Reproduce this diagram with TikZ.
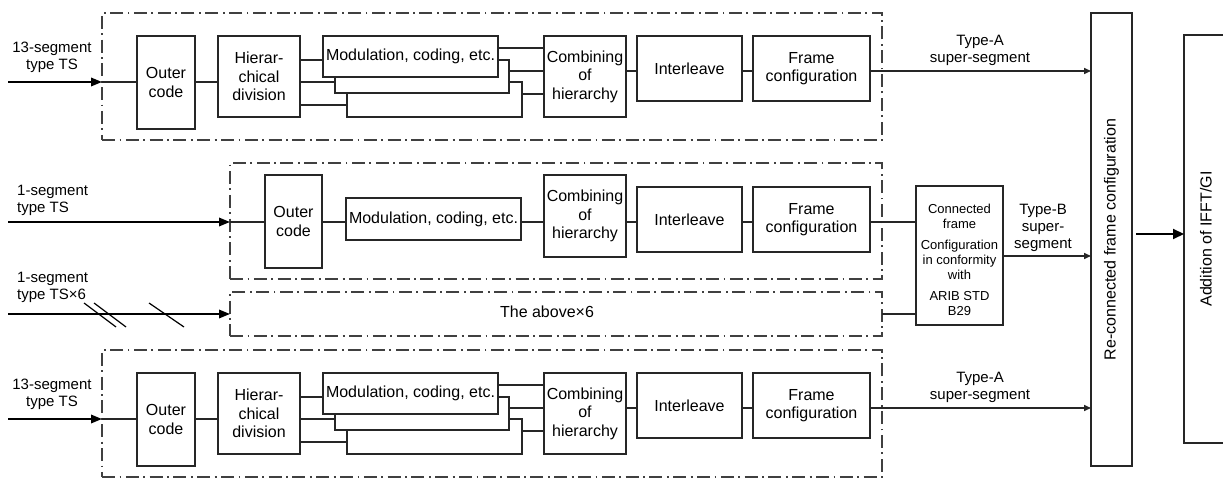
\documentclass[tikz,border=0pt]{standalone}
\usepackage{fontspec}
\setmainfont{Liberation Sans}
\usetikzlibrary{arrows.meta}
\tikzset{
 blk/.style={draw=black!85, line width=1.8pt, fill=white, inner sep=0pt, outer sep=0pt, align=center, font=\fontsize{16}{18.5}\selectfont},
 dbox/.style={draw=black!75, line width=1.4pt, dash pattern=on 13pt off 4.5pt on 1.8pt off 4.5pt, inner sep=0pt, outer sep=0pt},
 conn/.style={draw=black!85, line width=1.2pt},
 inarrow/.style={draw=black, line width=1.8pt, -{Triangle[length=11pt,width=8.5pt]}},
 outarrow/.style={draw=black!85, line width=1.5pt, -{Triangle[length=7pt,width=6pt]}},
 bigarrow/.style={draw=black, line width=2pt, -{Triangle[length=11pt,width=10pt]}},
 lbl/.style={inner sep=0pt, align=center, font=\fontsize{15}{17}\selectfont},
 slash/.style={draw=black, line width=1.2pt},
}
\newcommand\rowTypeA{%
 \node[dbox, minimum width=780pt, minimum height=127pt] (box) at (492,76.5) {};
 \coordinate (in) at (8,82);
 \coordinate (y48) at (0,48);
 \coordinate (y60) at (0,60);
 \coordinate (y71) at (0,71);
 \coordinate (y82) at (0,82);
 \coordinate (y94) at (0,94);
 \coordinate (y105) at (0,105);
 \node[blk, minimum width=58pt, minimum height=93pt] (outer) at (166,82.5) {Outer\\code};
 \node[blk, minimum width=82pt, minimum height=81pt] (hier) at (259,76.5) {Hierar-\\chical\\division};
 \node[blk, minimum width=175pt, minimum height=35pt] (modc) at (434.5,99.5) {};
 \node[blk, minimum width=174pt, minimum height=33pt] (modb) at (422,76.5) {};
 \node[blk, minimum width=175pt, minimum height=41pt] (moda) at (410.5,56.5) {Modulation, coding, etc.};
 \node[blk, minimum width=82pt, minimum height=81pt] (comb) at (585,76.5) {Combining\\of\\hierarchy};
 \node[blk, minimum width=105pt, minimum height=65pt] (inter) at (689.5,68.5) {Interleave};
 \node[blk, minimum width=117pt, minimum height=65pt] (frame) at (811.5,68.5) {Frame\\configuration};
 \draw[inarrow] (in) -- (box.west |- in);
 \draw[conn] (box.west |- in) -- (outer.west |- in);
 \draw[conn] (outer.east |- y82) -- (hier.west |- y82);
 \draw[conn] (hier.east |- y60) -- (moda.west |- y60);
 \draw[conn] (hier.east |- y82) -- (modb.west |- y82);
 \draw[conn] (hier.east |- y105) -- (modc.west |- y105);
 \draw[conn] (moda.east |- y48) -- (comb.west |- y48);
 \draw[conn] (modb.east |- y71) -- (comb.west |- y71);
 \draw[conn] (modc.east |- y94) -- (comb.west |- y94);
 \draw[conn] (comb.east |- y71) -- (inter.west |- y71);
 \draw[conn] (inter.east |- y71) -- (frame.west |- y71);
 \node[lbl] (lin) at (52,57) {13-segment\\type TS};
 \node[lbl] (lout) at (980,50) {Type-A\\super-segment};
}
\begin{document}
\begin{tikzpicture}[x=1pt, y=-1pt]
\useasboundingbox (0,0) rectangle (1223,478);
% top and bottom Type-A rows
\begin{scope}[name prefix=t-]
 \rowTypeA
\end{scope}
\begin{scope}[shift={(0,337)}, name prefix=b-]
 \rowTypeA
\end{scope}
% right-hand blocks (rotated: north = left side, south = right side)
\node[blk, rotate=90, minimum width=453pt, minimum height=41pt] (recon) at (1111.5,239.5) {Re-connected frame configuration};
\node[blk, rotate=90, minimum width=408pt, minimum height=44pt] (add) at (1206,239) {Addition of IFFT/GI};
\coordinate (y234) at (0,234);
\draw[bigarrow, shorten <=4pt] (recon.south |- y234) -- (add.north |- y234);
\draw[outarrow] (t-frame.east |- t-y71) -- (recon.north |- t-y71);
\draw[outarrow] (b-frame.east |- b-y71) -- (recon.north |- b-y71);
% middle 1-segment row
\node[dbox, minimum width=652pt, minimum height=116pt] (mbox) at (556,221) {};
\node[dbox, minimum width=652pt, minimum height=44pt] (xbox) at (556,314) {};
\node[lbl, font=\fontsize{16}{18.5}\selectfont] (xtext) at (547,312) {The above×6};
\coordinate (m-in) at (8,222);
\coordinate (x-in) at (8,314);
\coordinate (y222) at (0,222);
\coordinate (y256) at (0,256);
\coordinate (y314) at (0,314);
\node[blk, minimum width=57pt, minimum height=93pt] (mouter) at (293.5,221.5) {Outer\\code};
\node[blk, minimum width=175pt, minimum height=42pt] (mmod) at (433.5,219) {Modulation, coding, etc.};
\node[blk, minimum width=82pt, minimum height=82pt] (mcomb) at (585,216) {Combining\\of\\hierarchy};
\node[blk, minimum width=105pt, minimum height=65pt] (minter) at (689.5,219.5) {Interleave};
\node[blk, minimum width=117pt, minimum height=65pt] (mframe) at (811.5,219.5) {Frame\\configuration};
\node[blk, minimum width=87pt, minimum height=139pt] (cfr) at (959.5,255.5) {};
\node[lbl, font=\fontsize{13}{15}\selectfont] (cfrtext) at (959.5,260) {Connected\\frame\\[6pt]Configuration\\in conformity\\with\\[6pt]ARIB STD\\B29};
\draw[inarrow] (m-in) -- (mbox.west |- m-in);
\draw[inarrow] (x-in) -- (xbox.west |- x-in);
\draw[conn] (mbox.west |- y222) -- (mouter.west |- y222);
\draw[conn] (mouter.east |- y222) -- (mmod.west |- y222);
\draw[conn] (mmod.east |- y222) -- (mcomb.west |- y222);
\draw[conn] (mcomb.east |- y222) -- (minter.west |- y222);
\draw[conn] (minter.east |- y222) -- (mframe.west |- y222);
\draw[conn] (mframe.east |- y222) -- (cfr.west |- y222);
\draw[conn] (xbox.east |- y314) -- (cfr.west |- y314);
\draw[outarrow] (cfr.east |- y256) -- (recon.north |- y256);
\node[lbl, anchor=west, align=left] (l1) at (17,200) {1-segment\\type TS};
\node[lbl, anchor=west, align=left] (l6) at (17,287) {1-segment\\type TS×6};
\node[lbl] (lB) at (1043,228) {Type-B\\super-\\segment};
% bus slashes
\draw[slash] (84,303) -- (116,327);
\draw[slash] (94,303) -- (126,327);
\draw[slash] (149,303) -- (184,327);
\end{tikzpicture}
\end{document}
